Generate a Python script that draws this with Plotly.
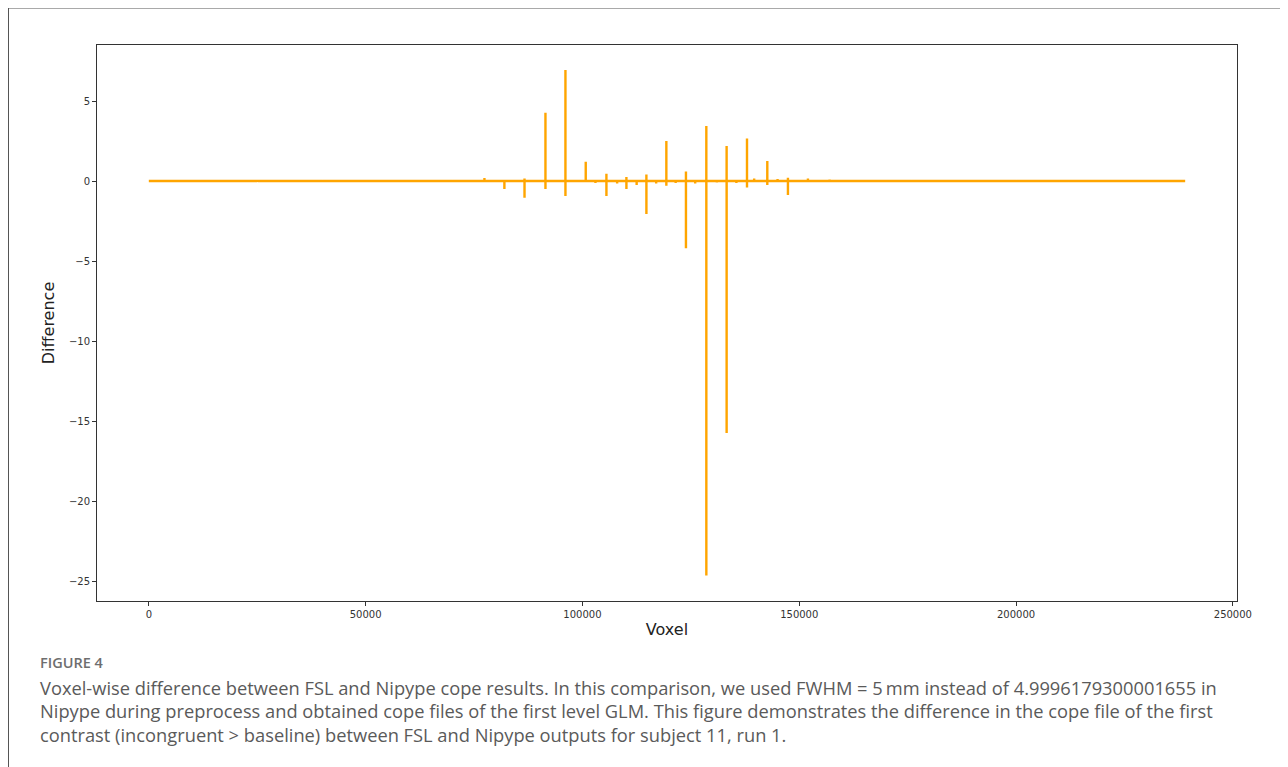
import plotly.graph_objects as go

# ---- data ----
voxel = [0,
         11999, 12000, 12001, 24999, 25000, 25001, 39999, 40000, 40001,
         59999, 60000, 60001, 69999, 70000, 70001,
         77399, 77400, 77401,
         81999, 82000, 82001,
         86639, 86640, 86641, 86642,
         91468, 91469, 91470, 91471, 91472,
         96077, 96078, 96079, 96080, 96081,
         100759, 100760, 100761,
         102999, 103000, 103001,
         105529, 105530, 105531, 105532,
         108000, 108001, 108002,
         110139, 110140, 110141, 110142,
         112499, 112500, 112501,
         114749, 114750, 114751, 114752,
         117000, 117001, 117002,
         119349, 119350, 119351, 119352,
         121499, 121500, 121501,
         123869, 123870, 123871, 123872,
         125999, 126000, 126001,
         128568, 128569, 128570, 128571, 128572, 128573,
         130999, 131000, 131001,
         133248, 133249, 133250, 133251, 133252, 133253,
         135499, 135500, 135501,
         137949, 137950, 137951, 137952,
         139599, 139600, 139601,
         142629, 142630, 142631, 142632,
         144999, 145000, 145001,
         147389, 147390, 147391, 147392,
         151999, 152000, 152001, 156999, 157000, 157001,
         164999, 165000, 165001, 175999, 176000, 176001,
         187999, 188000, 188001, 199999, 200000, 200001,
         211999, 212000, 212001, 224999, 225000, 225001,
         239000]
difference = [0.0,
              0.0, 0.06, 0.0, 0.0, -0.07, 0.0, 0.0, 0.05, 0.0,
              0.0, -0.08, 0.0, 0.0, 0.06, 0.0,
              0.0, 0.18, 0.0,
              0.0, -0.5, 0.0,
              0.0, 0.15, -1.04, 0.0,
              0.0, 0.9, 4.27, -0.5, 0.0,
              0.0, 4.0, 6.94, -0.94, 0.0,
              0.0, 1.2, 0.0,
              0.0, -0.12, 0.0,
              0.0, 0.46, -0.94, 0.0,
              0.0, -0.15, 0.0,
              0.0, 0.25, -0.5, 0.0,
              0.0, -0.25, 0.0,
              0.0, 0.4, -2.06, 0.0,
              0.0, -0.15, 0.0,
              0.0, 2.5, -0.3, 0.0,
              0.0, -0.12, 0.0,
              0.0, 0.6, -4.2, 0.0,
              0.0, -0.15, 0.0,
              0.0, 2.8, 3.44, -14.2, -24.65, 0.0,
              0.0, -0.1, 0.0,
              0.0, 2.0, 2.19, -8.9, -15.75, 0.0,
              0.0, -0.12, 0.0,
              0.0, 2.65, -0.4, 0.0,
              0.0, 0.15, 0.0,
              0.0, 1.25, -0.25, 0.0,
              0.0, 0.12, 0.0,
              0.0, 0.2, -0.87, 0.0,
              0.0, 0.15, 0.0, 0.0, 0.1, 0.0,
              0.0, -0.06, 0.0, 0.0, 0.05, 0.0,
              0.0, -0.08, 0.0, 0.0, 0.06, 0.0,
              0.0, -0.04, 0.0, 0.0, 0.05, 0.0,
              0.0]

x_ticks = [0, 50000, 100000, 150000, 200000, 250000]
x_tick_labels = ["0", "50000", "100000", "150000", "200000", "250000"]
y_ticks = [5, 0, -5, -10, -15, -20, -25]
y_tick_labels = ["5", "0", "\u22125", "\u221210", "\u221215", "\u221220", "\u221225"]

caption_label = "FIGURE 4"
caption_lines = [
    "Voxel-wise difference between FSL and Nipype cope results. In this comparison, we used FWHM = 5\u2009mm instead of 4.9996179300001655 in",
    "Nipype during preprocess and obtained cope files of the first level GLM. This figure demonstrates the difference in the cope file of the first",
    "contrast (incongruent > baseline) between FSL and Nipype outputs for subject 11, run 1.",
]

# ---- figure ----
OFF = 7  # page offset of the figure inside the browser page
W, H = 1288 - OFF, 767 - OFF
L, T = 96 - OFF, 44 - OFF
pw, ph = 1140, 556
R, B = W - L - pw, H - T - ph

def px_to_paper_x(px):
    return (px - OFF - L) / pw

def py_to_paper_y(py):
    return (T + ph - (py - OFF)) / ph

fig = go.Figure()
fig.add_trace(go.Scatter(
    x=voxel, y=difference, mode="lines",
    line=dict(color="#FFA500", width=2.4),
    hoverinfo="skip", showlegend=False,
))

axis_common = dict(
    showgrid=False, zeroline=False, showline=True, mirror=True,
    linecolor="#333333", linewidth=1,
    ticks="outside", ticklen=4, tickwidth=1, tickcolor="#333333",
    tickfont=dict(family="DejaVu Sans", size=10, color="#333333"),
)

fig.update_layout(
    width=W, height=H,
    margin=dict(l=L, r=R, t=T, b=B),
    paper_bgcolor="white", plot_bgcolor="white",
    xaxis=dict(range=[-11950, 250950], tickvals=x_ticks, ticktext=x_tick_labels,
               title=dict(text="Voxel", font=dict(family="DejaVu Sans", size=16, color="#222222"),
                          standoff=4),
               **axis_common),
    yaxis=dict(range=[-26.25, 8.5], tickvals=y_ticks, ticktext=y_tick_labels,
               title=dict(text="Difference", font=dict(family="DejaVu Sans", size=16, color="#222222"),
                          standoff=10),
               **axis_common),
)

# outer figure frame
fig.add_shape(type="rect", xref="paper", yref="paper",
              x0=px_to_paper_x(7.5), x1=px_to_paper_x(1295),
              y0=py_to_paper_y(790), y1=py_to_paper_y(7),
              line=dict(color="#555555", width=1), fillcolor="rgba(0,0,0,0)",
              layer="below")

fig.add_annotation(text=caption_label, xref="paper", yref="paper",
                   x=px_to_paper_x(37), y=py_to_paper_y(661),
                   xanchor="left", yanchor="middle", showarrow=False,
                   font=dict(family="Open Sans", size=14.5, color="#6e6e6e", weight=600))

for i, line in enumerate(caption_lines):
    fig.add_annotation(text=line, xref="paper", yref="paper",
                       x=px_to_paper_x(37), y=py_to_paper_y(686 + i * 23.5),
                       xanchor="left", yanchor="middle", showarrow=False,
                       font=dict(family="Open Sans", size=18.3, color="#5a5a5a"))

fig.write_html("out.html")
